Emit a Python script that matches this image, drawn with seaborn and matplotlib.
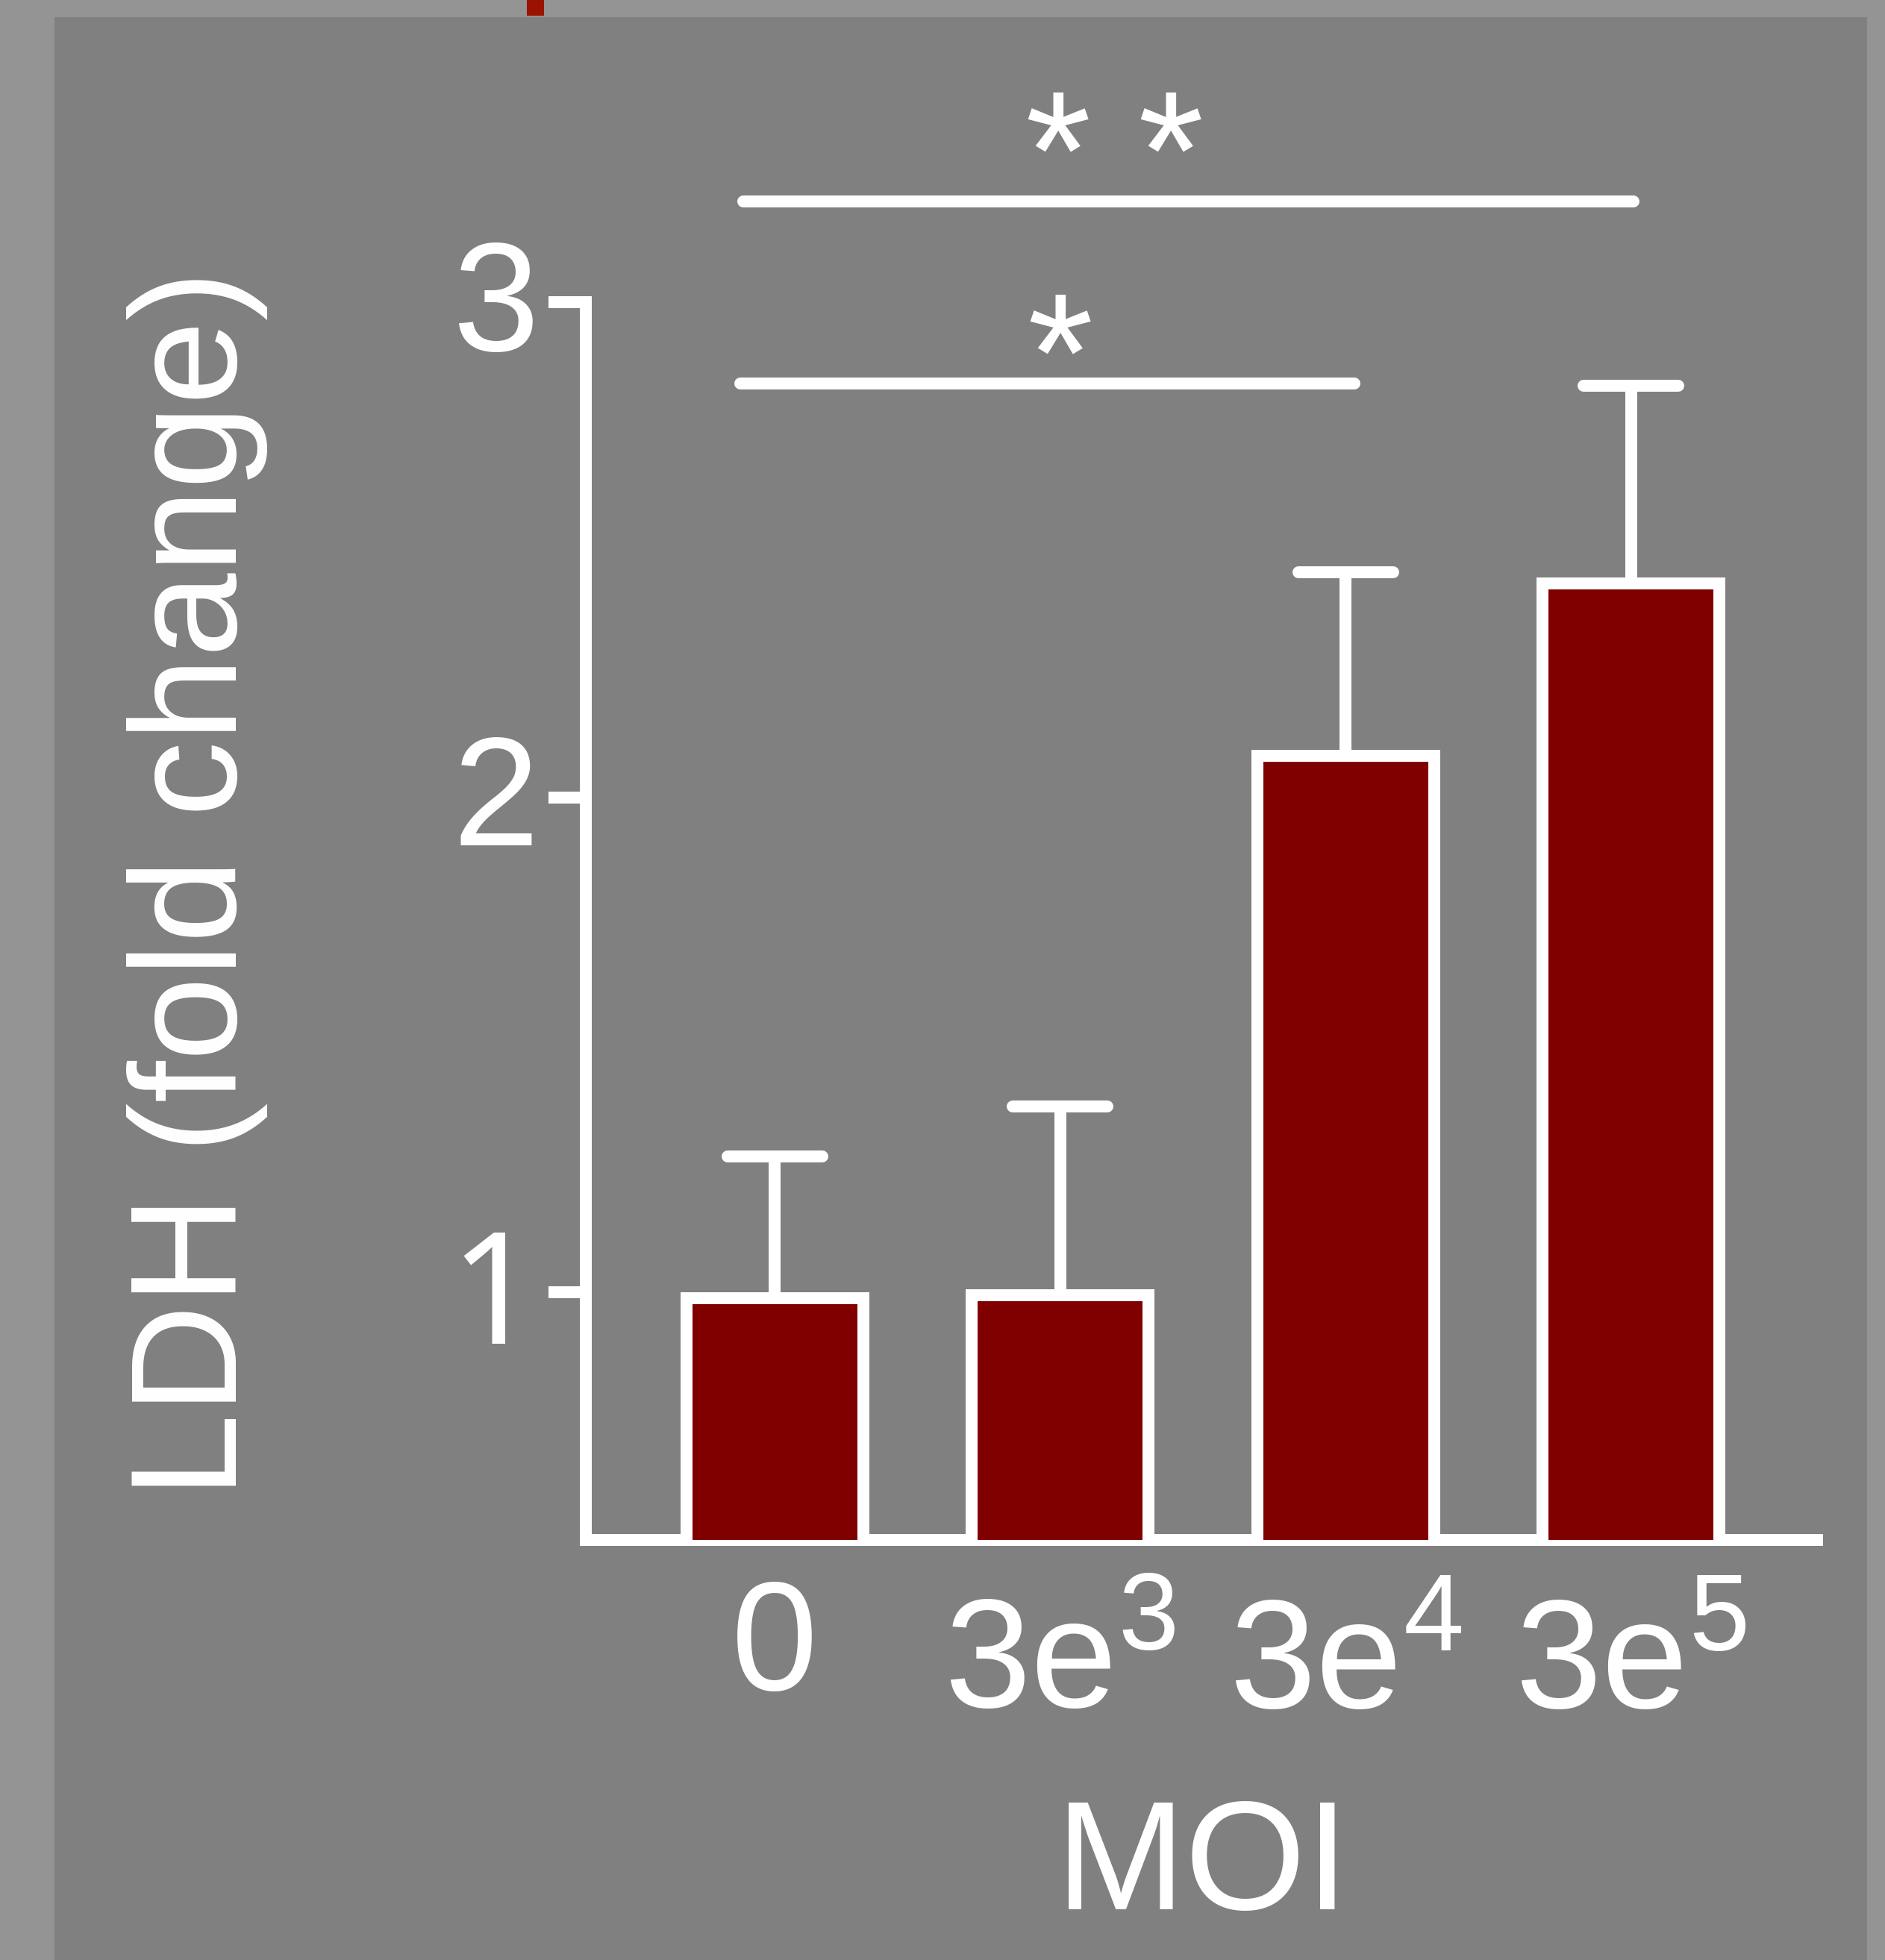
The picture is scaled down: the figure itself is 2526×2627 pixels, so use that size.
import matplotlib
matplotlib.use("Agg")
import matplotlib.pyplot as plt
import seaborn as sns
import numpy as np
import pandas as pd
from matplotlib.patches import Rectangle
from matplotlib.transforms import ScaledTranslation

# ---------------- data ----------------
categories = ["0", "3e3", "3e4", "3e5"]
tick_labels = ["0", "3e$^{3}$", "3e$^{4}$", "3e$^{5}$"]
ldh_mean = [0.988, 0.994, 2.084, 2.432]
ldh_err = [0.286, 0.381, 0.370, 0.399]
ytick_values = [1, 2, 3]
ytick_labels = ["1", "2", "3"]
sig_x_start = [-0.12, -0.11]
sig_x_end = [2.03, 3.01]
sig_y = [2.835, 3.204]
sig_text = ["*", "* *"]
sig_text_x = [1.0, 1.19]
x_label = "MOI"
y_label = "LDH (fold change)"

# ---------------- style ----------------
sns.set_style("ticks")
plt.rcParams["font.family"] = ["Liberation Sans", "DejaVu Sans"]
plt.rcParams["mathtext.fontset"] = "custom"
plt.rcParams["mathtext.rm"] = "Liberation Sans"
plt.rcParams["mathtext.it"] = "Liberation Sans:italic"
plt.rcParams["mathtext.default"] = "regular"

W, H, DPI = 2526, 2627, 100
PX = 72 / DPI  # points per pixel
LW = 16 * PX
FS = 150
YLABEL_FS = 146
STAR_FS = 163
star_offsets = [-0.054, -0.016]
cap_half = 0.166

fig = plt.figure(figsize=(W / DPI, H / DPI), dpi=DPI)
fig.patch.set_facecolor("#949494")
fig.patches.append(Rectangle((73 / W, 0), (2502 - 73) / W, (H - 23) / H,
                             transform=fig.transFigure, facecolor="#808080",
                             edgecolor="none", zorder=-10))
fig.patches.append(Rectangle((706 / W, (H - 21) / H), 23 / W, 21 / H,
                             transform=fig.transFigure, facecolor="#9a1200",
                             edgecolor="none", zorder=-5))

ax_l, ax_r, ax_t, ax_b = 785, 2435, 405, 2064
ax = fig.add_axes([ax_l / W, 1 - ax_b / H, (ax_r - ax_l) / W, (ax_b - ax_t) / H])
ax.set_facecolor("none")

df = pd.DataFrame({"MOI": categories, "LDH": ldh_mean})
sns.barplot(data=df, x="MOI", y="LDH", color="#800000", saturation=1,
            width=0.62, edgecolor="white", linewidth=LW, errorbar=None,
            ax=ax, zorder=3)

xpos = np.arange(len(categories))
means = np.array(ldh_mean)
errs = np.array(ldh_err)
ax.errorbar(xpos, means, yerr=[np.zeros_like(errs), errs], fmt="none",
            ecolor="white", elinewidth=LW, capsize=0, zorder=2)
caps = ax.hlines(means + errs, xpos - cap_half, xpos + cap_half,
                 colors="white", linewidth=LW, zorder=2)
caps.set_capstyle("round")

for x0, x1, y in zip(sig_x_start, sig_x_end, sig_y):
    ax.plot([x0, x1], [y, y], color="white", lw=LW,
            solid_capstyle="round", clip_on=False)
for xt, y, t, off in zip(sig_text_x, sig_y, sig_text, star_offsets):
    ax.text(xt, y + off, t, ha="center", va="baseline", fontsize=STAR_FS,
            color="white")

ax.set_xlim(-0.662, 3.652)
ax.set_ylim(0.5, 3.0)
sns.despine(ax=ax)
for s in ["left", "bottom"]:
    ax.spines[s].set_color("white")
    ax.spines[s].set_linewidth(LW)

ax.set_yticks(ytick_values)
ax.set_yticklabels(ytick_labels)
ax.set_xticks(xpos)
ax.set_xticklabels(tick_labels)
ax.tick_params(axis="y", length=50 * PX, width=LW, color="white", pad=9.4,
               labelsize=FS, labelcolor="white")
ax.tick_params(axis="x", length=0, pad=36, labelsize=FS, labelcolor="white")

ax.set_xlabel(x_label, fontsize=FS, color="white")
ax.xaxis.set_label_coords(1612 / W, 1 - 2408 / H, transform=fig.transFigure)
ax.set_ylabel(y_label, fontsize=YLABEL_FS, color="white")
ax.yaxis.set_label_coords(359 / W, 1 - 1184 / H, transform=fig.transFigure)

# fine adjustment of tick labels to match the reference typesetting
for lab in ax.get_yticklabels():
    lab.set_transform(lab.get_transform() +
                      ScaledTranslation(0, 11 / DPI, fig.dpi_scale_trans))
    if lab.get_text() == "1":
        # footless "1" as in the reference (Arial-like digit)
        lab.set_fontfamily(["Noto Sans", "Liberation Sans"])
for lab in ax.get_xticklabels():
    if "$" in lab.get_text():
        lab.set_transform(lab.get_transform() +
                          ScaledTranslation(0, -24 / DPI, fig.dpi_scale_trans))

fig.savefig("out.png", dpi=DPI, facecolor=fig.get_facecolor())
